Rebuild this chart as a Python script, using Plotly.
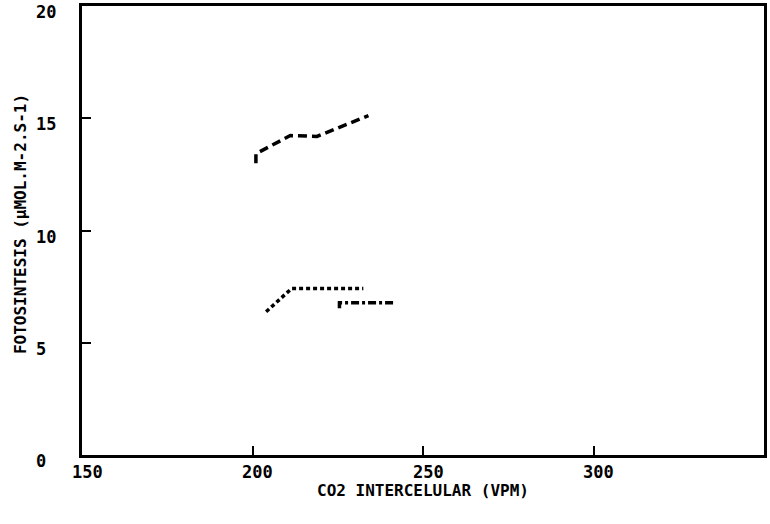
import plotly.graph_objects as go

# Data
x_upper = [201.0, 201.0, 211.1, 218.9, 234.0]
y_upper = [13.0, 13.42, 14.23, 14.19, 15.12]

x_mid = [204.0, 211.5, 232.5]
y_mid = [6.38, 7.42, 7.42]

x_low = [225.5, 225.5, 226.7, 241.8]
y_low = [6.54, 6.78, 6.78, 6.78]

x_ticks = [150, 200, 250, 300]
x_ticktext = ["150", "200", "250", "300"]
y_ticks = [0, 5, 10, 15, 20]
y_ticktext = ["0", "5", "10", "15", "20"]

FONT = "DejaVu Sans Mono"

fig = go.Figure()
fig.add_trace(go.Scatter(x=x_upper, y=y_upper, mode="lines",
                         line=dict(color="black", width=3.5, dash="9px,5px")))
fig.add_trace(go.Scatter(x=x_mid, y=y_mid, mode="lines",
                         line=dict(color="black", width=3.5, dash="4px,3px")))
fig.add_trace(go.Scatter(x=x_low, y=y_low, mode="lines",
                         line=dict(color="black", width=3.5, dash="8px,3px,3px,3px")))

anns = []
for v, t in zip(x_ticks, x_ticktext):
    anns.append(dict(x=v, y=0, xref="x", yref="y", text=t, showarrow=False,
                     xanchor="center", yanchor="top", xshift=5, yshift=-5,
                     font=dict(family=FONT, size=17, color="black", weight="bold")))
for v, t in zip(y_ticks, y_ticktext):
    anns.append(dict(x=-0.0705, y=v, xref="paper", yref="y", text=t, showarrow=False,
                     xanchor="left", yanchor="middle", yshift=-6,
                     font=dict(family=FONT, size=17, color="black", weight="bold")))
anns.append(dict(x=0.5, y=-0.0796, xref="paper", yref="paper",
                 text="CO2 INTERCELULAR (VPM)", showarrow=False,
                 xanchor="center", yanchor="middle",
                 font=dict(family=FONT, size=16, color="black", weight="bold")))
anns.append(dict(x=-0.0905, y=0.515, xref="paper", yref="paper",
                 text="FOTOSINTESIS (µMOL.M-2.S-1)", showarrow=False, textangle=-90,
                 xanchor="center", yanchor="middle",
                 font=dict(family=FONT, size=16, color="black", weight="bold")))

fig.update_layout(
    width=770, height=524,
    margin=dict(l=82, r=6, t=3, b=69),
    paper_bgcolor="white", plot_bgcolor="white",
    showlegend=False,
    annotations=anns,
    xaxis=dict(range=[150, 350], tickvals=[200, 250, 300], ticks="inside",
               ticklen=9, tickwidth=2, tickcolor="black", showticklabels=False,
               showgrid=False, zeroline=False, showline=True, mirror=True,
               linecolor="black", linewidth=2.5),
    yaxis=dict(range=[0, 20], tickvals=[5, 10, 15], ticks="inside",
               ticklen=9, tickwidth=2, tickcolor="black", showticklabels=False,
               showgrid=False, zeroline=False, showline=True, mirror=True,
               linecolor="black", linewidth=2.5),
)
fig.write_html("out.html", config={"displayModeBar": False})

# remove the default page margin so the figure sits at the window's top-left corner
with open("out.html", "r", encoding="utf-8") as f:
    html = f.read()
html = html.replace("<head>", "<head><style>html,body{margin:0;padding:0;}</style>", 1)
with open("out.html", "w", encoding="utf-8") as f:
    f.write(html)
